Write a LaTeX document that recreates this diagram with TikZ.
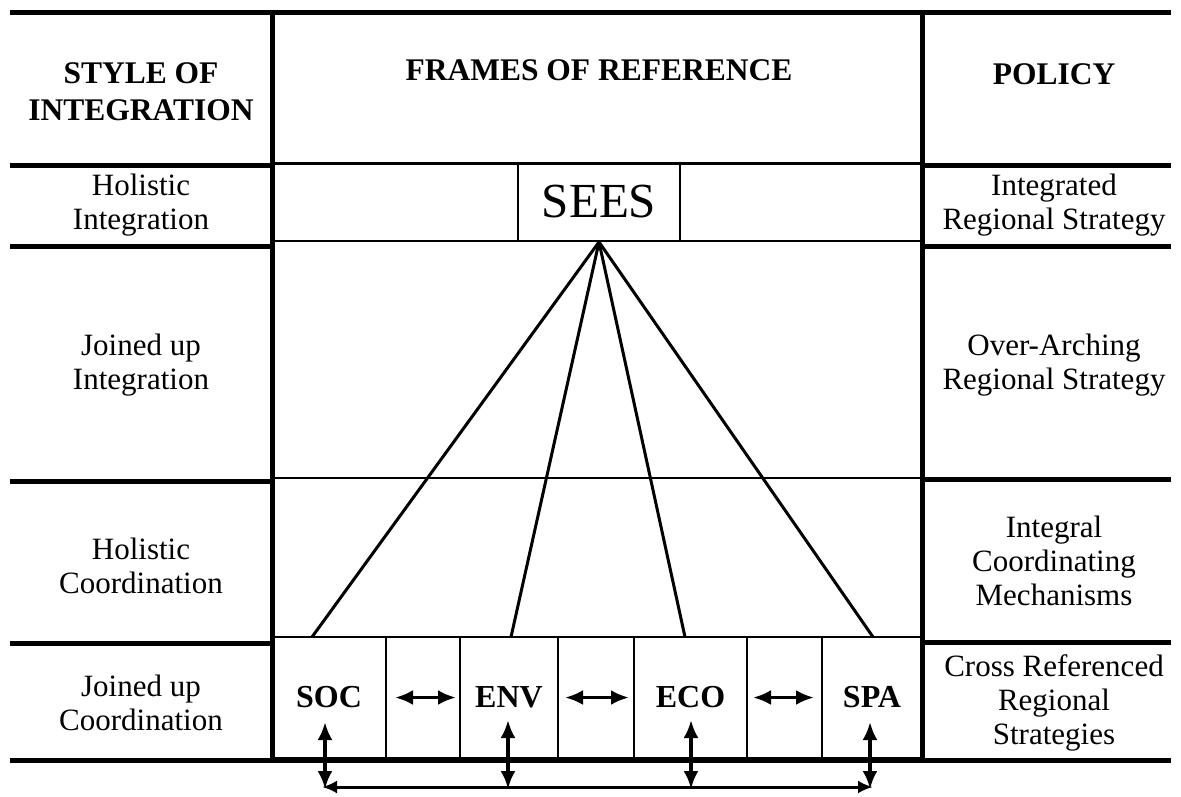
\documentclass[tikz,border=0pt]{standalone}
\usepackage{fontspec}
\setmainfont{Liberation Serif}
\usetikzlibrary{arrows.meta}
\begin{document}
\begin{tikzpicture}[x=1pt,y=-1pt,
  thickline/.style={line width=5pt},
  midline/.style={line width=3pt},
  thinline/.style={line width=2pt},
  fan/.style={line width=3pt},
  dbl/.style={line width=3.5pt,{Latex[length=18pt,width=15pt]}-{Latex[length=18pt,width=15pt]}},
  txt/.style={font=\fontsize{31}{34}\selectfont, align=center, inner sep=0pt},
  hd/.style={font=\fontsize{31.5}{37}\selectfont\bfseries, align=center, inner sep=0pt},
  cell/.style={draw, thinline, minimum height=121pt, inner sep=0pt, font=\fontsize{32}{34}\selectfont\bfseries},
  seesbox/.style={draw, thinline, minimum width=162pt, minimum height=78pt, inner sep=0pt, font=\fontsize{49}{52}\selectfont}
]
\useasboundingbox (0,0) rectangle (1181,796);

% ---- bottom cells (drawn first so the grid lines sit on top)
\node[cell, minimum width=114pt] (soc) at (329,697.5) {SOC};
\node[cell, minimum width=74pt]  (ac1) at (423,697.5) {};
\node[cell, minimum width=98pt]  (env) at (509,697.5) {ENV};
\node[cell, minimum width=76pt]  (ac2) at (596,697.5) {};
\node[cell, minimum width=113pt] (eco) at (690.5,697.5) {ECO};
\node[cell, minimum width=75pt]  (ac3) at (784.5,697.5) {};
\node[cell, minimum width=100pt] (spa) at (872,697.5) {SPA};

% ---- SEES box
\node[seesbox] (sees) at (599,202) {SEES};

% ---- grid lines
\draw[thickline] (10,12) -- (1171,12);
\draw[thickline] (10,760) -- (1171,760);
\draw[thickline] (10,165) -- (272,165);
\draw[midline]   (272,163) -- (922,163);
\draw[thickline] (922,165) -- (1171,165);
\draw[thickline] (10,246) -- (272,246);
\draw[thinline]  (272,241) -- (518,241);
\draw[thinline]  (680,241) -- (922,241);
\draw[thickline] (922,246) -- (1171,246);
\draw[thickline] (10,481) -- (272,481);
\draw[thinline]  (272,478) -- (922,478);
\draw[thickline] (922,479) -- (1171,479);
\draw[thickline] (10,643) -- (272,643);
\draw[thickline] (922,642) -- (1171,642);
\draw[thickline] (272,12) -- (272,762);
\draw[thickline] (922,12) -- (922,762);

% ---- headers
\node[hd] (hstyle)  at (141,92)  {STYLE OF\\INTEGRATION};
\node[hd] (hframes) at (599,70)  {FRAMES OF REFERENCE};
\node[hd] (hpolicy) at (1054,74) {POLICY};

% ---- left column
\node[txt] (l1) at (141,205) {Holistic\\Integration};
\node[txt] (l2) at (141,365) {Joined up\\Integration};
\node[txt] (l3) at (141,566) {Holistic\\Coordination};
\node[txt] (l4) at (141,703) {Joined up\\Coordination};

% ---- right column
\node[txt] (r1) at (1054,205) {Integrated\\Regional Strategy};
\node[txt] (r2) at (1054,365) {Over-Arching\\Regional Strategy};
\node[txt] (r3) at (1054,561) {Integral\\Coordinating\\Mechanisms};
\node[txt] (r4) at (1054,703) {Cross Referenced\\Regional\\Strategies};

% ---- fan lines
\coordinate (f1) at (312,637);
\coordinate (f2) at (511,637);
\coordinate (f3) at (685,637);
\coordinate (f4) at (873,637);
\foreach \f in {f1,f2,f3,f4} \draw[fan] (sees.south) -- (\f);

% ---- horizontal double arrows between cells
\draw[dbl, shorten <=8pt, shorten >=3pt] (soc.east) -- (env.west);
\draw[dbl, shorten <=6pt, shorten >=4pt] (env.east) -- (eco.west);
\draw[dbl, shorten <=5pt, shorten >=7pt] (eco.east) -- (spa.west);

% ---- vertical double arrows and bottom link
\coordinate (t1) at (325,722); \coordinate (b1) at (325,789);
\coordinate (t2) at (508,720); \coordinate (b2) at (508,789);
\coordinate (t3) at (691,720); \coordinate (b3) at (691,789);
\coordinate (t4) at (870,722); \coordinate (b4) at (870,789);
\draw[dbl] (t1) -- (b1);
\draw[dbl] (t2) -- (b2);
\draw[dbl] (t3) -- (b3);
\draw[dbl] (t4) -- (b4);
\draw[line width=3pt, {Latex[length=15pt,width=13pt]}-{Latex[length=15pt,width=13pt]}] ([xshift=-3pt,yshift=2pt]b1) -- ([xshift=3pt,yshift=2pt]b4);
\end{tikzpicture}
\end{document}
